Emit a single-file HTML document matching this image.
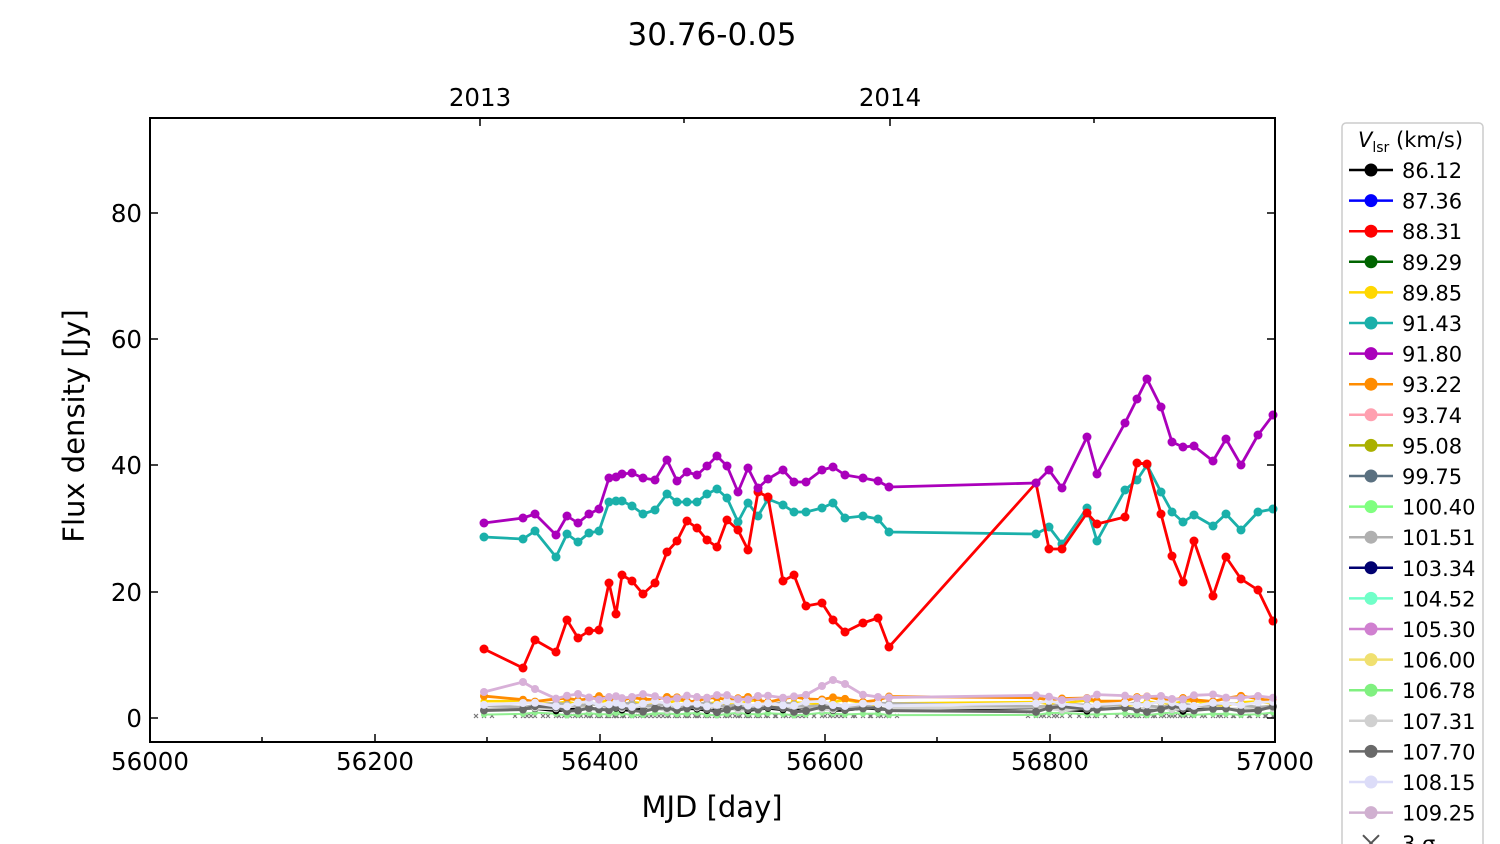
<!DOCTYPE html>
<html><head><meta charset="utf-8"><style>
html,body{margin:0;padding:0;background:#fff;}
svg{display:block;font-family:"DejaVu Sans","Liberation Sans",sans-serif;}
</style></head><body>
<svg id="s" width="1500" height="844" viewBox="0 0 1500 844" xmlns="http://www.w3.org/2000/svg">
<text x="712" y="45" font-size="31" text-anchor="middle">30.76-0.05</text>
<g id="plot"></g>
<rect x="150" y="118" width="1125" height="624" fill="none" stroke="#000" stroke-width="2"/>
<g id="ticks" stroke="#000" stroke-width="1.5"></g>
<g font-size="24.5" text-anchor="middle">
<text x="150" y="770">56000</text><text x="375" y="770">56200</text><text x="600" y="770">56400</text>
<text x="825" y="770">56600</text><text x="1050" y="770">56800</text><text x="1275" y="770">57000</text>
<text x="480" y="106">2013</text><text x="890" y="106">2014</text>
</g>
<g font-size="24.5" text-anchor="end">
<text x="142" y="727">0</text><text x="142" y="601">20</text><text x="142" y="474">40</text>
<text x="142" y="348">60</text><text x="142" y="222">80</text>
</g>
<text x="712" y="817" font-size="29" text-anchor="middle">MJD [day]</text>
<text transform="translate(84,426) rotate(-90)" font-size="29" text-anchor="middle">Flux density [Jy]</text>
<rect x="1342" y="123" width="141" height="740" rx="4" fill="#fff" stroke="#ccc" stroke-width="1.5"/>
<text x="1358" y="147" font-size="21"><tspan font-style="italic">V</tspan><tspan font-size="14" dy="5">lsr</tspan><tspan dy="-5"> (km/s)</tspan></text>
<g id="leg" font-size="21"></g>
</svg>
<script>
const NS="http://www.w3.org/2000/svg";
function el(p,t,a){const e=document.createElementNS(NS,t);for(const k in a)e.setAttribute(k,a[k]);p.appendChild(e);return e;}
const T=document.getElementById('ticks');
[150,375,600,825,1050,1275].forEach(x=>{el(T,'line',{x1:x,y1:742,x2:x,y2:734});});
[262,487,712,937,1162].forEach(x=>{el(T,'line',{x1:x,y1:742,x2:x,y2:737});});
[480,890].forEach(x=>{el(T,'line',{x1:x,y1:118,x2:x,y2:126});});
[684,1094].forEach(x=>{el(T,'line',{x1:x,y1:118,x2:x,y2:123});});
[718,592,465,339,213].forEach(y=>{el(T,'line',{x1:150,y1:y,x2:158,y2:y});el(T,'line',{x1:1275,y1:y,x2:1267,y2:y});});
const X=[484,523,535,556,567,578,589,599,609,616,622,632,643,655,667,677,687,697,707,717,727,738,748,758,768,783,794,806,822,833,845,863,878,889,1036,1049,1062,1087,1097,1125,1137,1147,1161,1172,1183,1194,1213,1226,1241,1258,1273];
const purple=[523,518,514,535,516,523,514,509,478,477,474,473,478,480,460,481,472,475,466,456,466,492,468,488,479,470,482,482,470,467,475,478,481,487,483,470,488,437,474,423,399,379,407,442,447,446,461,439,465,435,415];
const cyan=[537,539,531,557,534,542,533,531,502,501,501,506,514,510,494,502,502,502,494,489,498,522,503,516,499,505,512,512,508,503,518,516,519,532,534,527,544,508,541,490,480,465,492,512,522,515,526,514,530,512,509];
const red=[649,668,640,652,620,638,631,630,583,614,575,581,594,583,552,541,521,528,540,547,520,530,550,492,497,581,575,606,603,620,632,623,618,647,483,549,549,513,524,517,463,464,514,556,582,541,596,557,579,590,621];
const P=document.getElementById('plot');
function series(ys,col,r,w){
 el(P,'polyline',{points:X.map((x,i)=>x+','+ys[i]).join(' '),fill:'none',stroke:col,'stroke-width':w||2.8,'stroke-linejoin':'round'});
 X.forEach((x,i)=>el(P,'circle',{cx:x,cy:ys[i],r:r||4.5,fill:col}));
}
function low(base,amp,seed){return X.map((x,i)=>base+amp*Math.sin(i*1.7+seed)+amp*0.6*Math.cos(i*0.9+seed*2));}
X.forEach(x=>{[-8,0,8].forEach(d=>{const xx=x+d;if(xx<1275)el(P,'path',{d:`M${xx-2},${714} l4,4 m0,-4 l-4,4`,stroke:'#777','stroke-width':1.2});});});
series(low(714,1,1),'#90ee90',3,2);
series(low(709,1.5,2),'#000',3.5,2.5);
series(low(708,1.5,3),'#d3d3d3',3.5,3);
series(low(703,2,4),'#ffd700',3.5,2.5);
series(low(699,2,5),'#ff8c00',4,2.8);
series(low(705,1.5,6),'#b0b0b0',3.5,2.8);
series(low(709,2,7),'#696969',4,3);
series(low(704,2,8),'#e6e6fa',4,2.8);
const th=low(697,2,9);th[0]=692;th[1]=682;th[2]=689;th[28]=686;th[29]=680;th[30]=684;
series(th,'#d8b0d8',4,2.8);
series(cyan,'#1ab0aa');
series(red,'#f00');
series(purple,'#aa00bb');
const L=[["86.12","#000"],["87.36","#0000ff"],["88.31","#ff0000"],["89.29","#006400"],["89.85","#ffd700"],["91.43","#1ab0aa"],["91.80","#aa00bb"],["93.22","#ff8c00"],["93.74","#ffa0b0"],["95.08","#aab000"],["99.75","#5a7080"],["100.40","#80ff80"],["101.51","#b0b0b0"],["103.34","#000070"],["104.52","#70ffc8"],["105.30","#d080d0"],["106.00","#f0e070"],["106.78","#80f080"],["107.31","#d0d0d0"],["107.70","#696969"],["108.15","#dcdcf8"],["109.25","#d0b0d0"]];
const G=document.getElementById('leg');
L.forEach((l,i)=>{const y=170+i*30.6;el(G,'line',{x1:1349,y1:y,x2:1393,y2:y,stroke:l[1],'stroke-width':2.5});el(G,'circle',{cx:1371,cy:y,r:6.5,fill:l[1]});const t=el(G,'text',{x:1402,y:y+8});t.textContent=l[0];});
const y=170+22*30.6;el(G,'path',{d:`M1363,${y-8} l16,16 m0,-16 l-16,16`,stroke:'#555','stroke-width':2});
const t=el(G,'text',{x:1402,y:y+8});t.textContent='3 σ';
</script>
</body></html>
